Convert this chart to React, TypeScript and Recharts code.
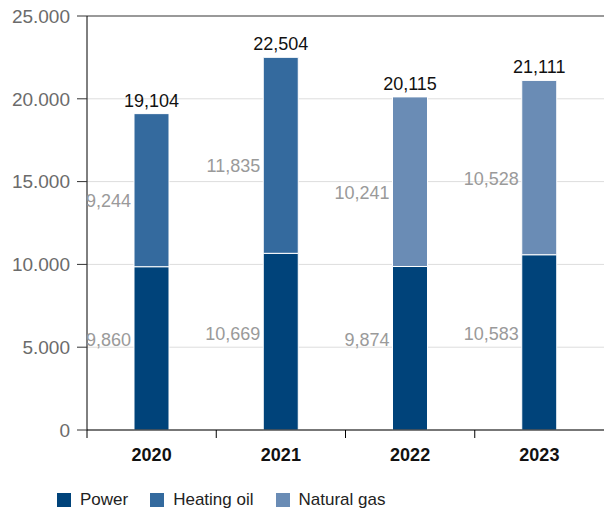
import { BarChart, Bar, XAxis, YAxis, CartesianGrid, ReferenceLine, LabelList } from 'recharts';

const years = ['2020', '2021', '2022', '2023'];
const power = [9860, 10669, 9874, 10583];
const heatingOil = [9244, 11835, 0, 0];
const naturalGas = [0, 0, 10241, 10528];
const yTicks = [0, 5000, 10000, 15000, 20000, 25000];

const COLORS = { power: '#00437a', heating: '#346a9e', gas: '#6a8cb5' };
const FONT = '"Liberation Sans", Arial, Helvetica, sans-serif';

const W = 604;
const H = 512;
const LEFT = 87;
const BAND = (W - LEFT) / years.length;

const data = years.map((year, i) => ({
  year,
  power: power[i],
  heating: heatingOil[i],
  gas: naturalGas[i],
  total: power[i] + heatingOil[i] + naturalGas[i],
}));

const fmt = (v: number) => v.toLocaleString('en-US');
const fmtAxis = (v: number) => v.toLocaleString('en-US').replace(',', '.');

function segmentLabel(shift: number) {
  return (props: any) => {
    const { x, y, height, value } = props;
    if (!value) return null;
    return (
      <text
        x={x - 3}
        y={y + height / 2 + shift}
        textAnchor="end"
        dominantBaseline="central"
        fill="#9a9a9a"
        fontSize={18}
        fontFamily={FONT}
      >
        {fmt(value)}
      </text>
    );
  };
}

// drawn from the power bar: its pixels-per-unit gives the top of the stack
function TotalLabel(props: any) {
  const { x, y, width, height, index } = props;
  const d = data[index];
  const bottom = y + height;
  const top = bottom - (d.total * height) / d.power;
  return (
    <text x={x + width / 2} y={top - 7} textAnchor="middle" fill="#111" fontSize={18} fontFamily={FONT}>
      {fmt(d.total)}
    </text>
  );
}

function YearTick(props: any) {
  const { x, y, payload } = props;
  return (
    <g>
      <line x1={x - BAND / 2} x2={x - BAND / 2} y1={y} y2={y + 8} stroke="#000" />
      <text x={x} y={y + 31} textAnchor="middle" fill="#111" fontSize={18} fontWeight="bold" fontFamily={FONT}>
        {payload.value}
      </text>
    </g>
  );
}

const legendItems = [
  { name: 'Power', color: COLORS.power },
  { name: 'Heating oil', color: COLORS.heating },
  { name: 'Natural gas', color: COLORS.gas },
];

export default function App() {
  return (
    <div style={{ position: 'absolute', left: 0, top: 0, width: W, height: H, fontFamily: FONT }}>
      <BarChart width={W} height={H} data={data} margin={{ top: 16, right: 0, bottom: 0, left: 0 }} barSize={35}>
        <CartesianGrid vertical={false} stroke="#dddddd" />
        <XAxis
          dataKey="year"
          height={82}
          axisLine={{ stroke: '#000' }}
          tickLine={false}
          tickSize={0}
          tickMargin={0}
          tick={<YearTick />}
          interval={0}
        />
        <YAxis
          width={LEFT}
          domain={[0, 25000]}
          ticks={yTicks}
          tickFormatter={fmtAxis}
          axisLine={{ stroke: '#000' }}
          tickLine={{ stroke: '#333' }}
          tickSize={10}
          tickMargin={7}
          tick={{ fill: '#6b6b6b', fontSize: 19, fontFamily: FONT }}
        />
        <ReferenceLine y={25000} stroke="#444" />
        <Bar dataKey="power" stackId="a" fill={COLORS.power} stroke="#ffffff" strokeWidth={1} isAnimationActive={false}>
          <LabelList dataKey="power" content={segmentLabel(-8)} />
          <LabelList dataKey="total" content={TotalLabel} />
        </Bar>
        <Bar dataKey="heating" stackId="a" fill={COLORS.heating} stroke="#ffffff" strokeWidth={1} isAnimationActive={false}>
          <LabelList dataKey="heating" content={segmentLabel(11)} />
        </Bar>
        <Bar dataKey="gas" stackId="a" fill={COLORS.gas} stroke="#ffffff" strokeWidth={1} isAnimationActive={false}>
          <LabelList dataKey="gas" content={segmentLabel(11)} />
        </Bar>
      </BarChart>
      <div style={{ position: 'absolute', left: 57, top: 490, display: 'flex', alignItems: 'center', fontSize: 17, color: '#222' }}>
        {legendItems.map((item) => (
          <div key={item.name} style={{ display: 'flex', alignItems: 'center', marginRight: 22 }}>
            <span style={{ width: 14, height: 14, background: item.color, display: 'inline-block', marginRight: 9 }} />
            <span>{item.name}</span>
          </div>
        ))}
      </div>
    </div>
  );
}
